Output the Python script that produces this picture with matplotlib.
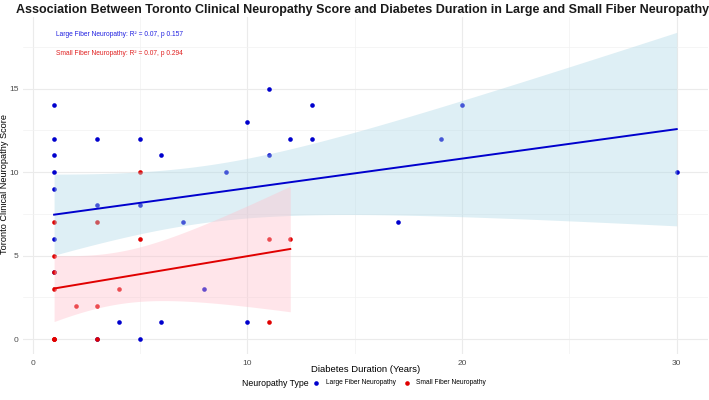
import math
import matplotlib.pyplot as plt
import numpy as np

# Large fiber neuropathy: diabetes duration (years) vs TCNS
large_x = [1, 1, 1, 1, 1, 1, 1, 3, 3, 3, 4, 5, 5, 5, 6, 6, 7, 8, 9, 10,
           10, 11, 11, 12, 13, 13, 17, 19, 20, 30]
large_y = [14, 12, 11, 10, 9, 6, 4, 12, 8, 0, 1, 12, 8, 0, 11, 1, 7, 3, 10, 13,
           1, 15, 11, 12, 14, 12, 7, 12, 14, 10]

# Small fiber neuropathy
small_x = [1, 1, 1, 1, 1, 1, 1, 2, 3, 3, 3, 4, 5, 5, 11, 11, 12]
small_y = [7, 5, 4, 3, 0, 0, 0, 2, 7, 2, 0, 3, 10, 6, 6, 1, 6]

labels = ["Large Fiber Neuropathy", "Small Fiber Neuropathy"]
stats_text = ["Large Fiber Neuropathy: R\u00b2 = 0.07, p 0.157",
              "Small Fiber Neuropathy: R\u00b2 = 0.07, p 0.294"]

plt.rcParams['font.family'] = ["Liberation Sans", "DejaVu Sans"]


def t_quantile(p, df):
    # critical value by integrating the t density
    c = math.gamma((df + 1) / 2) / (math.sqrt(df * math.pi) * math.gamma(df / 2))
    grid = np.linspace(0, 10, 200001)
    pdf = c * (1 + grid ** 2 / df) ** (-(df + 1) / 2)
    cdf = np.concatenate([[0], np.cumsum((pdf[1:] + pdf[:-1]) / 2 * np.diff(grid))])
    return np.interp(p - 0.5, cdf, grid)


def lm_band(x, y, n_pts=80):
    x = np.asarray(x, float)
    y = np.asarray(y, float)
    n = len(x)
    b, a = np.polyfit(x, y, 1)
    resid = y - (a + b * x)
    s = np.sqrt(np.sum(resid ** 2) / (n - 2))
    sxx = np.sum((x - x.mean()) ** 2)
    xs = np.linspace(x.min(), x.max(), n_pts)
    fit = a + b * xs
    se = s * np.sqrt(1 / n + (xs - x.mean()) ** 2 / sxx)
    tq = t_quantile(0.975, n - 2)
    return xs, fit, fit - tq * se, fit + tq * se


fig = plt.figure(figsize=(7.09, 4.0), dpi=100)
ax = fig.add_axes([0.0324, 0.114, 0.966, 0.8435])

ax.scatter(large_x, large_y, s=11, color='#0000CD', linewidths=0, zorder=2)
ax.scatter(small_x, small_y, s=11, color='#E00000', linewidths=0, zorder=2)

xs, fit, lo, hi = lm_band(large_x, large_y)
ax.fill_between(xs, lo, hi, color='#ADD8E6', alpha=0.4, linewidth=0, zorder=3)
ax.plot(xs, fit, color='#0000CD', lw=1.4, zorder=4)

xs, fit, lo, hi = lm_band(small_x, small_y)
ax.fill_between(xs, lo, hi, color='#FFC0CB', alpha=0.4, linewidth=0, zorder=3)
ax.plot(xs, fit, color='#E00000', lw=1.4, zorder=4)

ax.set_xticks([0, 10, 20, 30])
ax.set_xticks([5, 15, 25], minor=True)
ax.set_yticks([0, 5, 10, 15])
ax.set_yticks([2.5, 7.5, 12.5, 17.5], minor=True)
ax.grid(True, which='major', color='#EBEBEB', lw=0.8)
ax.grid(True, which='minor', color='#F2F2F2', lw=0.5)
ax.set_axisbelow(True)
for sp in ax.spines.values():
    sp.set_visible(False)
ax.tick_params(which='both', length=0, labelsize=6, labelcolor='#4D4D4D')
ax.tick_params(axis='y', pad=3)
ax.tick_params(axis='x', pad=4)

# axis titles
fig.text(0.515, 1 - 369 / 400, "Diabetes Duration (Years)", fontsize=6.8,
         ha='center', va='center')
fig.text(4.5 / 709, 1 - 184 / 400, "Toronto Clinical Neuropathy Score", fontsize=6.6,
         ha='center', va='center', rotation=90)

ax.text(0.048, 0.9496, stats_text[0], transform=ax.transAxes, color='#2020E0',
        fontsize=4.8, va='center')
ax.text(0.048, 0.893, stats_text[1], transform=ax.transAxes, color='#E02020',
        fontsize=4.8, va='center')

fig.text(0.511, 1 - 10 / 400, "Association Between Toronto Clinical Neuropathy Score and Diabetes "
         "Duration in Large and Small Fiber Neuropathy", ha='center', va='center',
         fontsize=9, fontweight='bold', color='#1A1A1A')

# legend at the bottom, title to the left of the keys
fig.text(242 / 709, 1 - 383 / 400, "Neuropathy Type", fontsize=6.3, va='center', ha='left')
h1 = ax.scatter([], [], s=11, color='#0000CD', linewidths=0)
h2 = ax.scatter([], [], s=11, color='#E00000', linewidths=0)
fig.legend([h1, h2], labels, loc='center left', bbox_to_anchor=(313 / 709, 1 - 383 / 400),
           ncol=2, frameon=False, fontsize=4.8, handletextpad=0.9,
           columnspacing=1.2, handlelength=1.0, borderpad=0, borderaxespad=0)

fig.savefig("out.png", dpi=100)
